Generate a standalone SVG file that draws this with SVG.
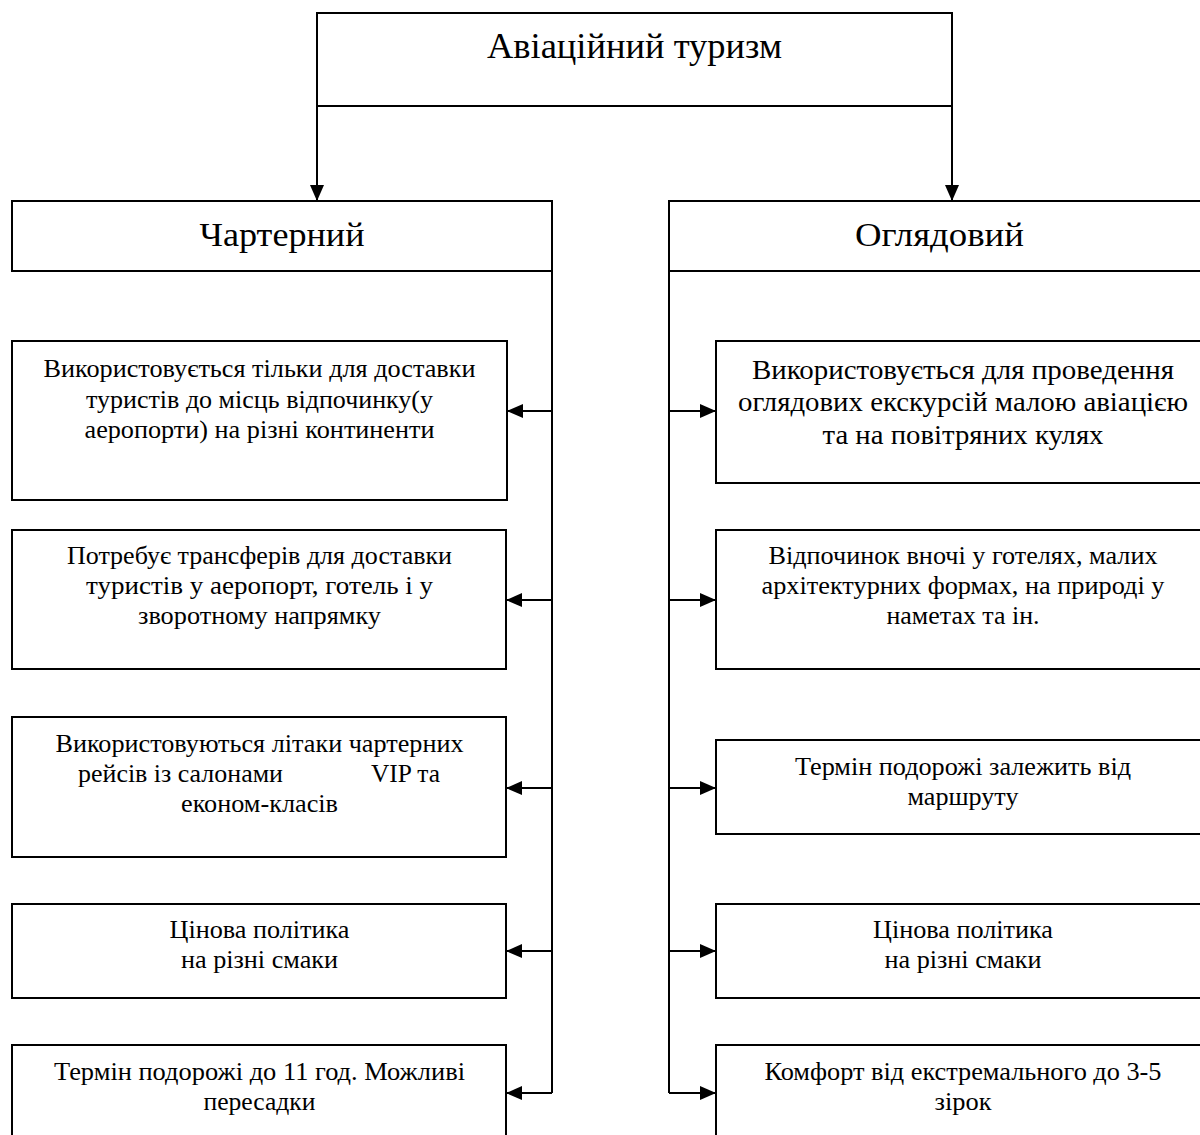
<svg xmlns="http://www.w3.org/2000/svg" width="1200" height="1135" viewBox="0 0 1200 1135">
  <style>
    .box { fill: #fff; stroke: #000; stroke-width: 2; }
    .wire { fill: none; stroke: #000; stroke-width: 2; }
    text { font-family: "Liberation Serif", "Times New Roman", serif; fill: #000; text-anchor: middle; }
    .h1 { font-size: 35px; }
    .h2 { font-size: 33px; }
    .t { font-size: 26px; }
    .tl { font-size: 28px; }
    .st { text-anchor: start; }
  </style>
  <defs>
    <marker id="arrow" markerUnits="userSpaceOnUse" markerWidth="16" markerHeight="14" refX="16" refY="7" orient="auto">
      <path d="M0,0 L16,7 L0,14 z" fill="#000"/>
    </marker>
  </defs>
  <rect width="1200" height="1135" fill="#fff"/>

  <!-- connectors -->
  <g id="connectors" class="wire">
    <line x1="317" y1="106" x2="317" y2="201" marker-end="url(#arrow)"/>
    <line x1="952" y1="106" x2="952" y2="201" marker-end="url(#arrow)"/>
    <!-- left trunk and branches -->
    <line x1="552" y1="271" x2="552" y2="1093"/>
    <line x1="552" y1="411" x2="507" y2="411" marker-end="url(#arrow)"/>
    <line x1="552" y1="600" x2="506" y2="600" marker-end="url(#arrow)"/>
    <line x1="552" y1="788" x2="506" y2="788" marker-end="url(#arrow)"/>
    <line x1="552" y1="951" x2="506" y2="951" marker-end="url(#arrow)"/>
    <line x1="552" y1="1093" x2="506" y2="1093" marker-end="url(#arrow)"/>
    <!-- right trunk and branches -->
    <line x1="669" y1="271" x2="669" y2="1093"/>
    <line x1="669" y1="411" x2="716" y2="411" marker-end="url(#arrow)"/>
    <line x1="669" y1="600" x2="716" y2="600" marker-end="url(#arrow)"/>
    <line x1="669" y1="788" x2="716" y2="788" marker-end="url(#arrow)"/>
    <line x1="669" y1="951" x2="716" y2="951" marker-end="url(#arrow)"/>
    <line x1="669" y1="1093" x2="716" y2="1093" marker-end="url(#arrow)"/>
  </g>

  <g id="root">
    <rect class="box" x="317" y="13" width="635" height="93"/>
    <text class="h1" x="634.5" y="58" textLength="295" lengthAdjust="spacingAndGlyphs">Авіаційний туризм</text>
  </g>

  <g id="charter">
    <rect class="box" x="12" y="201" width="540" height="70"/>
    <text class="h2" x="282" y="246" textLength="165" lengthAdjust="spacingAndGlyphs">Чартерний</text>
  </g>

  <g id="sightseeing">
    <rect class="box" x="669" y="201" width="545" height="70"/>
    <text class="h2" x="939.5" y="246" textLength="169" lengthAdjust="spacingAndGlyphs">Оглядовий</text>
  </g>

  <!-- charter details -->
  <g id="c1">
    <rect class="box" x="12" y="341" width="495" height="159"/>
    <text class="t" x="259.5" y="377" textLength="432" lengthAdjust="spacingAndGlyphs">Використовується тільки для доставки</text>
    <text class="t" x="259.5" y="408" textLength="347" lengthAdjust="spacingAndGlyphs">туристів до місць відпочинку(у</text>
    <text class="t" x="259.5" y="438" textLength="350" lengthAdjust="spacingAndGlyphs">аеропорти) на різні континенти</text>
  </g>
  <g id="c2">
    <rect class="box" x="12" y="530" width="494" height="139"/>
    <text class="t" x="259.5" y="564" textLength="385" lengthAdjust="spacingAndGlyphs">Потребує трансферів для доставки</text>
    <text class="t" x="259.5" y="594" textLength="347" lengthAdjust="spacingAndGlyphs">туристів у аеропорт, готель і у</text>
    <text class="t" x="259.5" y="624" textLength="243" lengthAdjust="spacingAndGlyphs">зворотному напрямку</text>
  </g>
  <g id="c3">
    <rect class="box" x="12" y="717" width="494" height="140"/>
    <text class="t" x="259.5" y="752" textLength="408" lengthAdjust="spacingAndGlyphs">Використовуються літаки чартерних</text>
    <text class="t st" y="782"><tspan x="78" textLength="205" lengthAdjust="spacingAndGlyphs">рейсів із салонами</tspan><tspan x="371" textLength="69" lengthAdjust="spacingAndGlyphs">VIP та</tspan></text>
    <text class="t" x="259.5" y="812" textLength="157" lengthAdjust="spacingAndGlyphs">економ-класів</text>
  </g>
  <g id="c4">
    <rect class="box" x="12" y="904" width="494" height="94"/>
    <text class="t" x="259.5" y="938" textLength="180" lengthAdjust="spacingAndGlyphs">Цінова політика</text>
    <text class="t" x="259.5" y="968" textLength="157" lengthAdjust="spacingAndGlyphs">на різні смаки</text>
  </g>
  <g id="c5">
    <rect class="box" x="12" y="1045" width="494" height="110"/>
    <text class="t" x="259.5" y="1080" textLength="411" lengthAdjust="spacingAndGlyphs">Термін подорожі до 11 год. Можливі</text>
    <text class="t" x="259.5" y="1110" textLength="112" lengthAdjust="spacingAndGlyphs">пересадки</text>
  </g>

  <!-- sightseeing details -->
  <g id="s1">
    <rect class="box" x="716" y="341" width="498" height="142"/>
    <text class="tl" x="963" y="379" textLength="422" lengthAdjust="spacingAndGlyphs">Використовується для проведення</text>
    <text class="tl" x="963" y="411" textLength="450" lengthAdjust="spacingAndGlyphs">оглядових екскурсій малою авіацією</text>
    <text class="tl" x="963" y="444" textLength="281" lengthAdjust="spacingAndGlyphs">та на повітряних кулях</text>
  </g>
  <g id="s2">
    <rect class="box" x="716" y="530" width="498" height="139"/>
    <text class="t" x="963" y="564" textLength="389" lengthAdjust="spacingAndGlyphs">Відпочинок вночі у готелях, малих</text>
    <text class="t" x="963" y="594" textLength="403" lengthAdjust="spacingAndGlyphs">архітектурних формах, на природі у</text>
    <text class="t" x="963" y="624" textLength="153" lengthAdjust="spacingAndGlyphs">наметах та ін.</text>
  </g>
  <g id="s3">
    <rect class="box" x="716" y="740" width="498" height="94"/>
    <text class="t" x="963" y="775" textLength="336" lengthAdjust="spacingAndGlyphs">Термін подорожі залежить від</text>
    <text class="t" x="963" y="805" textLength="111" lengthAdjust="spacingAndGlyphs">маршруту</text>
  </g>
  <g id="s4">
    <rect class="box" x="716" y="904" width="498" height="94"/>
    <text class="t" x="963" y="938" textLength="180" lengthAdjust="spacingAndGlyphs">Цінова політика</text>
    <text class="t" x="963" y="968" textLength="157" lengthAdjust="spacingAndGlyphs">на різні смаки</text>
  </g>
  <g id="s5">
    <rect class="box" x="716" y="1045" width="498" height="110"/>
    <text class="t" x="963" y="1080" textLength="397" lengthAdjust="spacingAndGlyphs">Комфорт від екстремального до 3-5</text>
    <text class="t" x="963" y="1110" textLength="57" lengthAdjust="spacingAndGlyphs">зірок</text>
  </g>
</svg>
